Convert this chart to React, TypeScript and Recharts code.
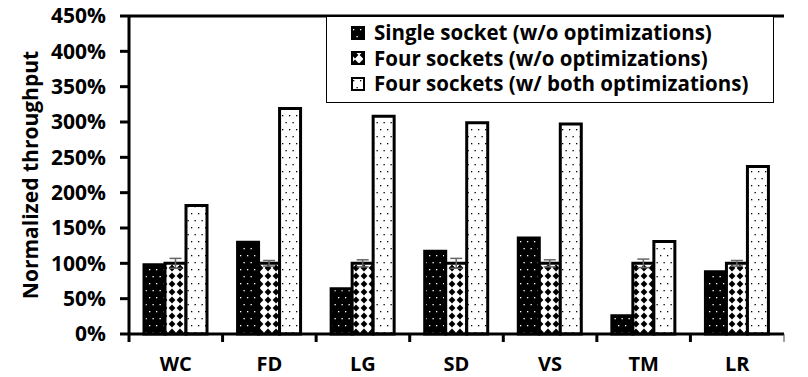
import React from 'react';
import { BarChart, Bar, XAxis, YAxis, Legend, ErrorBar, ReferenceLine } from 'recharts';

const categories = ['WC', 'FD', 'LG', 'SD', 'VS', 'TM', 'LR'];
const singleSocket = [98, 130, 64, 117, 136, 26, 88];
const fourSockets = [100, 100, 100, 100, 100, 100, 100];
const fourSocketsErr = [7, 4, 5, 7, 5, 6, 4];
const fourSocketsOpt = [182, 319, 308, 299, 297, 131, 237];
const yTicks = [0, 50, 100, 150, 200, 250, 300, 350, 400, 450];

const seriesNames = [
  'Single socket (w/o optimizations)',
  'Four sockets (w/o optimizations)',
  'Four sockets (w/ both optimizations)',
];
const patternIds = ['pat-single', 'pat-diamond', 'pat-dots'];

const data = categories.map((name, i) => ({
  name,
  single: singleSocket[i],
  four: fourSockets[i],
  fourErr: fourSocketsErr[i],
  fourOpt: fourSocketsOpt[i],
}));

const CHART_W = 808;
const CHART_H = 377;
const margin = { top: 16, right: 24, bottom: 13, left: 0 };
const Y_AXIS_W = 129;
const band = (CHART_W - margin.left - margin.right - Y_AXIS_W) / categories.length;
const font = "'Open Sans', sans-serif";

const CategoryTick = (props: any) => {
  const { x, y, payload, index } = props;
  const half = band / 2;
  return (
    <g>
      <line x1={x - half} x2={x - half} y1={y} y2={y + 8} stroke="#000" strokeWidth={3} />
      {index === categories.length - 1 && (
        <line x1={x + half} x2={x + half} y1={y} y2={y + 8} stroke="#444" strokeWidth={1} />
      )}
      <text x={x} y={y + 37} textAnchor="middle" fontSize={20} fontWeight={700} fill="#000" fontFamily={font}>
        {payload.value}
      </text>
    </g>
  );
};

const LegendBox = () => (
  <div
    style={{
      width: 446,
      height: 82,
      border: '1px solid #000',
      background: '#fff',
      boxSizing: 'content-box',
      paddingTop: 3,
      fontFamily: font,
    }}
  >
    {seriesNames.map((n, i) => (
      <div key={n} style={{ display: 'flex', alignItems: 'center', height: 25.5, paddingLeft: 24 }}>
        <svg width={14} height={14} style={{ marginRight: 9, flex: 'none' }}>
          <rect x={1} y={1} width={12} height={12} fill={`url(#${patternIds[i]})`} stroke="#000" strokeWidth={2} />
        </svg>
        <span style={{ fontSize: 20.5, fontWeight: 700, color: '#000', lineHeight: '25px', whiteSpace: 'nowrap' }}>{n}</span>
      </div>
    ))}
  </div>
);

export default function App() {
  return (
    <div style={{ position: 'absolute', left: 0, top: 0, background: '#fff' }}>
      <BarChart
        width={CHART_W}
        height={CHART_H}
        data={data}
        margin={margin}
        barCategoryGap={15}
        barGap={0}
        style={{ fontFamily: font }}
      >
        <defs>
          <pattern id="pat-single" width={7} height={14} patternUnits="userSpaceOnUse">
            <rect width={7} height={14} fill="#000" />
            <rect x={2} y={3} width={1.3} height={1.3} fill="#fff" />
            <rect x={5.5} y={10} width={1.3} height={1.3} fill="#fff" />
          </pattern>
          <pattern id="pat-diamond" width={8} height={8} patternUnits="userSpaceOnUse">
            <rect width={8} height={8} fill="#fff" />
            <polygon points="4,0.6 7.4,4 4,7.4 0.6,4" fill="#000" />
          </pattern>
          <pattern id="pat-dots" width={7} height={14} patternUnits="userSpaceOnUse">
            <rect width={7} height={14} fill="#fff" />
            <rect x={2} y={3} width={1.3} height={1.3} fill="#000" />
            <rect x={5.5} y={10} width={1.3} height={1.3} fill="#000" />
          </pattern>
        </defs>
        <XAxis
          dataKey="name"
          height={30}
          tickSize={0}
          tickMargin={0}
          tick={<CategoryTick />}
          axisLine={{ stroke: '#000', strokeWidth: 3 }}
          interval={0}
        />
        <YAxis
          width={Y_AXIS_W}
          domain={[0, 450]}
          ticks={yTicks}
          tickFormatter={(v: number) => `${v}%`}
          tickSize={9}
          tickMargin={14}
          tick={{ fontSize: 21, fontWeight: 700, fill: '#000', fontFamily: font }}
          axisLine={{ stroke: '#000', strokeWidth: 3 }}
          tickLine={{ stroke: '#000', strokeWidth: 3 }}
          label={{
            value: 'Normalized throughput',
            angle: -90,
            position: 'insideLeft',
            offset: 31,
            style: { textAnchor: 'middle', fontSize: 21, fontWeight: 700, fill: '#000', fontFamily: font },
          }}
        />
        <YAxis
          yAxisId="right"
          orientation="right"
          width={0}
          tick={false}
          tickLine={false}
          axisLine={{ stroke: '#444', strokeWidth: 1 }}
        />
        <ReferenceLine y={450} stroke="#000" strokeWidth={3} />
        <Legend
          layout="horizontal"
          verticalAlign="middle"
          align="center"
          content={<LegendBox />}
          wrapperStyle={{ left: 326, top: 16, width: 448, height: 86 }}
        />
        <Bar dataKey="single" name={seriesNames[0]} fill="url(#pat-single)" stroke="#000" strokeWidth={3} isAnimationActive={false} />
        <Bar dataKey="four" name={seriesNames[1]} fill="url(#pat-diamond)" stroke="#000" strokeWidth={3} isAnimationActive={false}>
          <ErrorBar dataKey="fourErr" width={6} stroke="#666" strokeWidth={1.5} direction="y" />
        </Bar>
        <Bar dataKey="fourOpt" name={seriesNames[2]} fill="url(#pat-dots)" stroke="#000" strokeWidth={3} isAnimationActive={false} />
      </BarChart>
    </div>
  );
}
